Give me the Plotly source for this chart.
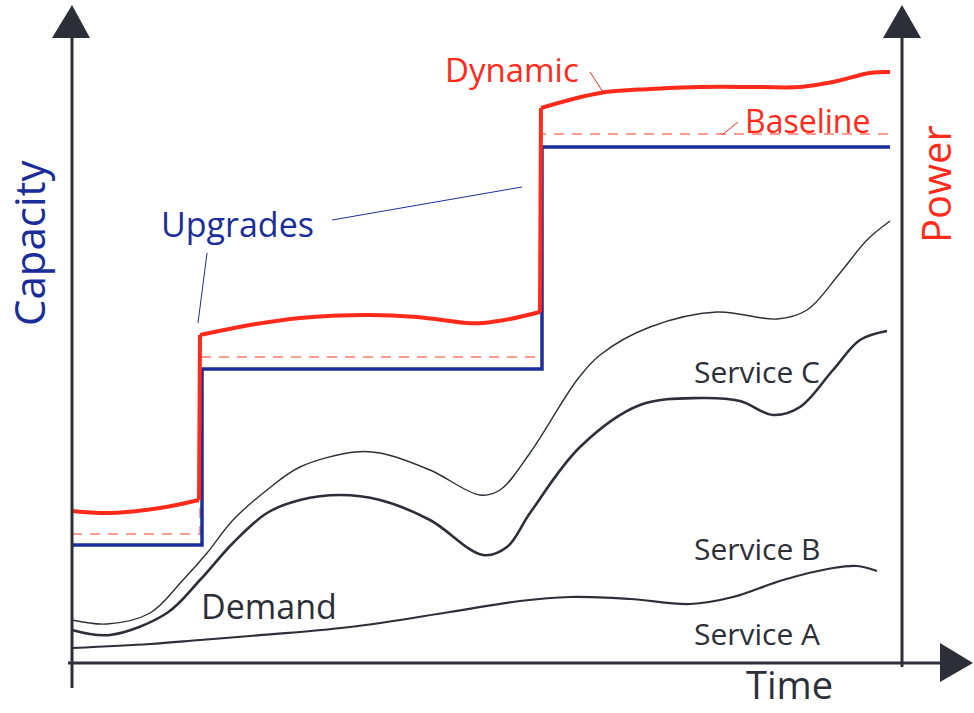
import plotly.graph_objects as go

# time axis runs from the capacity axis (0) to the power axis (830)
# capacity / power in the same arbitrary units, 0 at the time axis

service_a_t = [0, 78, 128, 178, 278, 378, 448, 498, 558, 618, 661, 711, 761, 785, 805]
service_a = [15, 19, 23, 27, 36, 51, 62, 66, 64, 59, 66, 83, 95, 97, 92]

service_b_t = [0, 38, 95, 128, 161, 195, 228, 268, 308, 358, 411, 435, 458, 508, 568, 628, 668, 701, 728, 761, 788, 815]
service_b = [33, 28, 50, 83, 120, 150, 163, 168, 163, 143, 108, 116, 150, 216, 258, 265, 262, 248, 256, 293, 323, 332]

service_c_t = [0, 35, 78, 111, 135, 161, 195, 228, 283, 308, 358, 408, 428, 458, 505, 528, 578, 645, 705, 735, 768, 795, 818]
service_c = [43, 39, 50, 83, 110, 143, 173, 196, 211, 210, 193, 168, 173, 210, 283, 308, 336, 351, 344, 353, 390, 423, 442]

# provisioned capacity (step upgrades)
upgrade_t = [0, 130, 470, 818]
capacity = [118, 294, 516, 516]

# power: baseline per step and dynamic draw
baseline_t = [0, 128, 470, 818]
baseline = [129, 306, 529, 529]

dyn1_t = [0, 38, 88, 127]
dyn1 = [152, 150, 155, 163]
dyn2_t = [128, 178, 228, 295, 345, 395, 411, 438, 468]
dyn2 = [328, 338, 345, 348, 346, 340, 340, 344, 351]
dyn3_t = [469, 528, 578, 628, 688, 728, 761, 798, 818]
dyn3 = [555, 570, 574, 576, 576, 576, 581, 590, 591]

DARK = "#2d2f38"
NAVY = "#1b2d9a"
RED = "#ff2a1a"
FONT = "Open Sans"

fig = go.Figure()

fig.add_trace(go.Scatter(x=baseline_t, y=baseline, mode="lines", line_shape="hv",
                         line=dict(color="#ff7b6b", width=1.5, dash="10px,8px")))
fig.add_trace(go.Scatter(x=upgrade_t, y=capacity, mode="lines", line_shape="hv",
                         line=dict(color=NAVY, width=3.5)))

for t, p in [(dyn1_t, dyn1), (dyn2_t, dyn2), (dyn3_t, dyn3)]:
  fig.add_trace(go.Scatter(x=t, y=p, mode="lines", line_shape="spline",
                           line=dict(color=RED, width=4)))
# jumps in power at each upgrade
fig.add_trace(go.Scatter(x=[dyn1_t[-1], dyn2_t[0], None, dyn2_t[-1], dyn3_t[0]],
                         y=[dyn1[-1], dyn2[0], None, dyn2[-1], dyn3[0]],
                         mode="lines", line=dict(color=RED, width=4)))

for t, s, w in [(service_a_t, service_a, 2.2), (service_b_t, service_b, 2.6), (service_c_t, service_c, 1.4)]:
  fig.add_trace(go.Scatter(x=t, y=s, mode="lines", line_shape="spline",
                           line=dict(color=DARK, width=w, smoothing=1)))

# axes with arrow heads
shapes = [
  dict(type="line", x0=0, y0=-25, x1=0, y1=630, line=dict(color=DARK, width=3)),
  dict(type="path", path="M -20 625 L 18 625 L 0 658 Z", fillcolor=DARK, line=dict(width=0)),
  dict(type="line", x0=830, y0=-4, x1=830, y1=630, line=dict(color=DARK, width=3)),
  dict(type="path", path="M 811 625 L 849 625 L 830 658 Z", fillcolor=DARK, line=dict(width=0)),
  dict(type="line", x0=-4, y0=0, x1=872, y1=0, line=dict(color=DARK, width=3)),
  dict(type="path", path="M 868 20 L 868 -19 L 901 0 Z", fillcolor=DARK, line=dict(width=0)),
  # leader lines
  dict(type="line", x0=135, y0=410, x1=126, y1=340, line=dict(color=NAVY, width=1)),
  dict(type="line", x0=260, y0=443, x1=450, y1=476, line=dict(color=NAVY, width=1)),
  dict(type="line", x0=518, y0=591, x1=531, y1=571, line=dict(color=RED, width=1)),
  dict(type="line", x0=666, y0=541, x1=650, y1=528, line=dict(color=RED, width=1)),
]

labels = [
  ("Capacity", -44, 420, 42, NAVY, -90, "middle"),
  ("Power", 863, 479, 40, RED, -90, "middle"),
  ("Time", 717, -49, 38, DARK, 0, "bottom"),
  ("Upgrades", 165, 439, 34, NAVY, 0, "middle"),
  ("Dynamic", 440, 594, 33, RED, 0, "middle"),
  ("Baseline", 735, 543, 32, RED, 0, "middle"),
  ("Demand", 197, 57, 34, DARK, 0, "middle"),
  ("Service C", 685, 292, 30, DARK, 0, "middle"),
  ("Service B", 685, 115, 30, DARK, 0, "middle"),
  ("Service A", 685, 30, 30, DARK, 0, "middle"),
]
annotations = [dict(text=txt, x=x, y=y, xref="x", yref="y", showarrow=False,
                    textangle=ang, font=dict(family=FONT, size=sz, color=col),
                    xanchor="center", yanchor=ya)
               for txt, x, y, sz, col, ang, ya in labels]

fig.update_layout(width=974, height=713, autosize=False,
                  margin=dict(l=0, r=0, t=0, b=0),
                  paper_bgcolor="white", plot_bgcolor="white",
                  showlegend=False, shapes=shapes, annotations=annotations,
                  xaxis=dict(range=[-72, 902], visible=False, fixedrange=True),
                  yaxis=dict(range=[-50, 663], visible=False, fixedrange=True))

# page has a default body margin, drop it so the figure fills the window
fig.write_html("out.html", config={"displayModeBar": False},
               post_script="document.body.style.margin='0px';document.body.style.overflow='hidden';")
